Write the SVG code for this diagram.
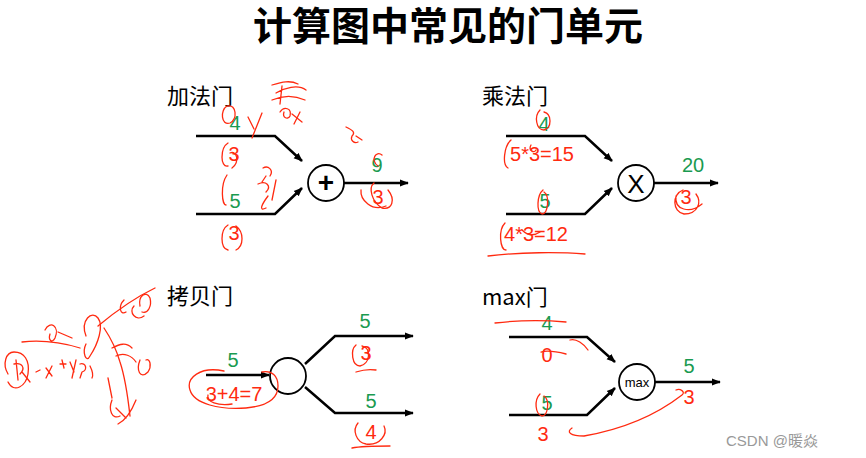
<svg xmlns="http://www.w3.org/2000/svg" width="866" height="458" viewBox="0 0 866 458">
<defs>
<marker id="ah" viewBox="0 0 10 10" refX="9" refY="5" markerWidth="9" markerHeight="9" markerUnits="userSpaceOnUse" orient="auto"><path d="M0,1 L10,5 L0,9 Z" fill="#000"/></marker>
<style>
.t{font-family:"Noto Sans CJK SC","Liberation Sans",sans-serif;fill:#000}
.title{font-size:39px;font-weight:bold}
.lbl{font-size:22px}
.w{fill:none;stroke:#000;stroke-width:2.5}
.c{fill:#fff;stroke:#000;stroke-width:1.8}
.g{font-family:"Liberation Sans",sans-serif;font-size:20px;fill:#1a9a50;text-anchor:middle}
.r{font-family:"Liberation Sans",sans-serif;font-size:20px;fill:#ff2a10;text-anchor:middle}
.h{fill:none;stroke:#ff2a10;stroke-width:1.3;stroke-linecap:round;stroke-linejoin:round}
.wm{font-family:"Liberation Sans","Noto Sans CJK SC",sans-serif;font-size:15px;fill:#999}
</style>
</defs>
<rect width="866" height="458" fill="#fff"/>
<text class="t title" x="448" y="40" text-anchor="middle">计算图中常见的门单元</text>

<g id="add-gate">
<text class="t lbl" x="167" y="104">加法门</text>
<circle class="c" cx="326" cy="183" r="18"/>
<text x="326" y="192" text-anchor="middle" style="font-family:'Liberation Sans',sans-serif;font-size:28px;font-weight:bold">+</text>
</g>
<g id="mul-gate">
<text class="t lbl" x="482" y="104">乘法门</text>
<circle class="c" cx="636" cy="183" r="18"/>
<text x="636" y="193" text-anchor="middle" style="font-family:'Liberation Sans',sans-serif;font-size:26px">X</text>
</g>
<g id="copy-gate">
<text class="t lbl" x="167" y="304">拷贝门</text>
<circle class="c" cx="288" cy="376" r="18"/>
</g>
<g id="max-gate">
<text class="t lbl" x="482" y="305">max门</text>
<circle class="c" cx="637" cy="382" r="18"/>
<text x="637" y="387" text-anchor="middle" style="font-family:'Liberation Sans',sans-serif;font-size:13px">max</text>
</g>

<g id="connectors">
<polyline class="w" points="196,136 275,136 302,161" marker-end="url(#ah)"/>
<polyline class="w" points="196,214 275,214 302,188" marker-end="url(#ah)"/>
<line class="w" x1="344" y1="183" x2="408" y2="183" marker-end="url(#ah)"/>
<polyline class="w" points="506,136 585,136 612,161" marker-end="url(#ah)"/>
<polyline class="w" points="506,214 585,214 612,188" marker-end="url(#ah)"/>
<line class="w" x1="654" y1="183" x2="718" y2="183" marker-end="url(#ah)"/>
<line class="w" x1="206" y1="375" x2="269" y2="375" marker-end="url(#ah)"/>
<polyline class="w" points="305,364 335,336 413,336" marker-end="url(#ah)"/>
<polyline class="w" points="305,387 335,413 413,413" marker-end="url(#ah)"/>
<polyline class="w" points="509,337 587,337 615,362" marker-end="url(#ah)"/>
<polyline class="w" points="509,415 587,415 615,388" marker-end="url(#ah)"/>
<line class="w" x1="655" y1="382" x2="720" y2="382" marker-end="url(#ah)"/>
</g>

<g id="values">
<text class="g" x="235" y="130">4</text>
<text class="r" x="234" y="161">3</text>
<text class="g" x="235" y="208">5</text>
<text class="r" x="234" y="240">3</text>
<text class="g" x="377" y="172">9</text>
<text class="r" x="378" y="204">3</text>

<text class="g" x="544" y="131">4</text>
<text class="r" x="542" y="161">5*3=15</text>
<text class="g" x="545" y="208">5</text>
<text class="r" x="536" y="241">4*3=12</text>
<text class="g" x="693" y="172">20</text>
<text class="r" x="686" y="204">3</text>

<text class="g" x="233" y="367">5</text>
<text class="r" x="234" y="401">3+4=7</text>
<text class="g" x="365" y="328">5</text>
<text class="r" x="366" y="360">3</text>
<text class="g" x="371" y="408">5</text>
<text class="r" x="371" y="439">4</text>

<text class="g" x="547" y="330">4</text>
<text class="r" x="547" y="362">0</text>
<text class="g" x="547" y="410">5</text>
<text class="r" x="543" y="441">3</text>
<text class="g" x="689" y="373">5</text>
<text class="r" x="689" y="404">3</text>
</g>

<g id="annotations">
<path class="h" d="M227,106 C220,110 221,126 230,123 C238,119 236,104 228,106"/>
<path class="h" d="M248,117 L254,129 M262,113 L252,138"/>
<path class="h" d="M272,85 C282,82 290,80 298,84 M276,93 C284,88 298,84 306,90 M272,100 C286,94 296,96 305,100 M282,86 L280,104"/>
<path class="h" d="M280,112 C284,106 292,108 290,116 C288,120 282,118 284,112 M292,114 L302,122 M300,112 L294,124"/>
<path class="h" d="M228,143 C220,148 220,168 228,166"/>
<path class="h" d="M230,153 C237,150 240,162 232,168"/>
<path class="h" d="M227,175 C220,185 222,205 226,205"/>
<path class="h" d="M263,168 C268,165 274,170 270,176 M266,176 L262,182 M258,184 C266,180 272,186 266,192 M276,180 L272,200 M268,196 C262,204 258,212 266,208"/>
<path class="h" d="M228,225 C220,230 220,248 228,250 M236,226 C244,232 244,246 236,250"/>
<path class="h" d="M346,127 C352,130 356,132 352,136 C350,140 354,144 358,142 M356,136 L362,140"/>
<path class="h" d="M382,155 C376,150 370,160 378,166 M374,183 C368,188 372,202 382,208 C392,210 396,200 388,190"/>
<path class="h" d="M361,190 C360,200 372,212 386,206"/>

<path class="h" d="M540,110 C534,116 536,130 544,130 C552,128 552,114 544,112"/>
<path class="h" d="M511,140 C504,146 502,165 508,168"/>
<path class="h" d="M531,145 C528,150 534,154 536,150"/>
<path class="h" d="M543,190 C537,195 536,212 542,214 C548,214 550,196 544,192"/>
<path class="h" d="M505,223 C498,230 500,250 506,250"/>
<path class="h" d="M522,230 C528,236 534,236 540,232"/>
<path class="h" d="M488,256 C520,252 560,252 585,254"/>
<path class="h" d="M683,190 C672,194 672,212 684,214 C698,214 702,202 696,194 M676,196 C674,210 690,214 702,204"/>

<path class="h" d="M356,345 C350,350 352,366 360,366 C370,364 372,348 362,346"/>
<path class="h" d="M356,372 C362,370 370,369 376,370"/>
<path class="h" d="M358,423 C352,430 356,442 366,444 C380,446 388,434 384,426 M352,448 C362,446 378,446 390,446"/>
<path class="h" d="M224,371 C200,366 186,378 190,390 C194,404 220,410 246,408 C268,406 278,398 278,386 C278,376 272,370 262,372"/>
<path class="h" d="M208,395 C206,402 218,406 232,404"/>

<path class="h" d="M495,323 C520,320 545,320 566,322"/>
<path class="h" d="M570,340 C576,338 584,344 588,350"/>
<path class="h" d="M541,352 C548,350 558,352 566,354"/>
<path class="h" d="M540,394 C534,400 535,414 542,416 C548,416 550,400 544,396"/>
<path class="h" d="M572,428 C566,432 570,436 584,436 C630,428 660,412 682,395 C686,392 680,388 676,390"/>

<path class="h" d="M8,374 C2,364 6,352 14,352 C24,352 30,360 28,374 C26,386 14,394 8,382"/>
<path class="h" d="M16,360 L18,380 M14,364 C22,362 26,368 20,374 M22,372 L30,382"/>
<path class="h" d="M36,372 L40,370 M46,368 L52,376 M52,366 L46,378 M62,360 L64,368 M60,364 L66,364 M70,362 L74,372 M76,360 L72,378 M80,364 C86,362 88,370 82,372 L80,378 M90,366 C92,370 94,374 92,378"/>
<path class="h" d="M22,342 C40,340 60,342 80,348 M45,330 C50,320 60,326 55,338 C52,344 48,340 50,334 M58,332 L72,338"/>
<path class="h" d="M86,336 C80,320 92,310 98,318 C104,326 98,344 90,356 C86,364 82,352 86,344"/>
<path class="h" d="M98,326 C110,316 130,300 155,288 M104,328 C112,340 116,348 120,362 C126,380 128,398 130,416"/>
<path class="h" d="M124,300 C118,306 120,316 126,312 M134,306 C128,312 136,322 144,316"/>
<path class="h" d="M140,306 C138,296 146,290 150,298 C152,306 148,314 142,312"/>
<path class="h" d="M112,348 C120,344 126,342 132,348 M116,356 C124,352 132,356 136,362"/>
<path class="h" d="M140,360 C136,370 140,380 148,372 C152,366 150,358 146,360"/>
<path class="h" d="M112,400 C108,410 112,420 120,416 M116,408 L126,418 M118,424 C126,420 132,410 136,400"/>
<path class="h" d="M108,378 L112,398"/>
</g>

<text class="wm" x="726" y="446">CSDN @暖焱</text>
</svg>
